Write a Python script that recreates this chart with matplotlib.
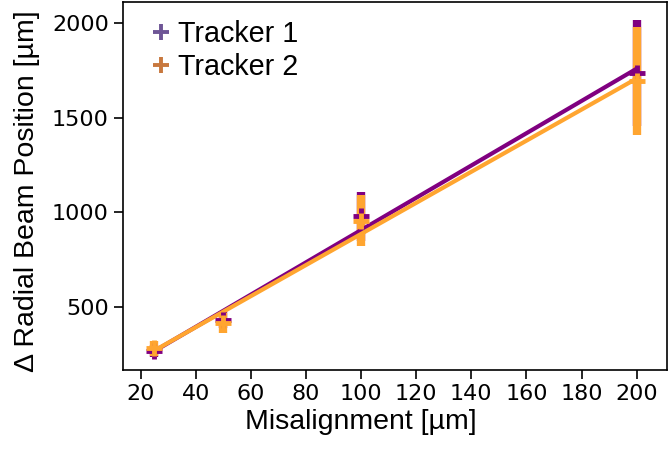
import numpy as np
import matplotlib
matplotlib.use('Agg')
import matplotlib.pyplot as plt
from matplotlib.lines import Line2D

# misalignment steps and measured radial beam position shifts
misalignment = [25, 50, 100, 200]
tracker1_pos = [265, 430, 978, 1737]
tracker1_err = [30, 45, 129, 280]
tracker2_pos = [281, 416, 955, 1695]
tracker2_err = [40, 53, 136, 287]

# straight-line fits evaluated at the end points
fit_x = [25, 200]
tracker1_fit = [265, 1760]
tracker2_fit = [268, 1708]

labels = ['Tracker 1', 'Tracker 2']
col1 = '#800080'
col2 = '#ffa530'

fig = plt.figure(figsize=(6.68, 4.55), dpi=100)
ax = fig.add_axes([0.1837, 0.1868, 0.8143, 0.8088])

ax.errorbar(misalignment, tracker1_pos, yerr=tracker1_err, fmt='+', color=col1,
            markersize=12, markeredgewidth=3.5, elinewidth=6)
ax.errorbar(misalignment, tracker2_pos, yerr=tracker2_err, fmt='+', color=col2,
            markersize=12, markeredgewidth=3.5, elinewidth=6)
ax.plot(fit_x, tracker1_fit, color=col1, linewidth=3)
ax.plot(fit_x, tracker2_fit, color=col2, linewidth=3)

ax.set_xlim(13.5, 210.9)
ax.set_ylim(165, 2113)
ax.set_xticks(np.arange(20, 201, 20))
ax.set_yticks([500, 1000, 1500, 2000])
ax.tick_params(labelsize=16, length=6.5, width=1.2)
for s in ax.spines.values():
    s.set_linewidth(1.2)

lab_font = {'family': 'Liberation Sans', 'size': 20.5}
ax.set_xlabel('Misalignment [µm]', fontdict=lab_font)
ax.set_ylabel('Δ Radial Beam Position [µm]', fontdict=lab_font)
ax.xaxis.set_label_coords(0.438, -0.105)
ax.yaxis.set_label_coords(-0.152, 0.486)

handles = [Line2D([], [], linestyle='none', marker='+', markersize=11, markeredgewidth=2.8, color='#6e5596'),
           Line2D([], [], linestyle='none', marker='+', markersize=11, markeredgewidth=2.8, color='#c8783e')]
ax.legend(handles, labels, loc='upper left', bbox_to_anchor=(0.013, 1.005), frameon=False,
          prop={'family': 'Liberation Sans', 'size': 20.7},
          handlelength=0.8, handletextpad=0.16, labelspacing=0.15, borderaxespad=0.3)

fig.savefig('out.png', dpi=100)
